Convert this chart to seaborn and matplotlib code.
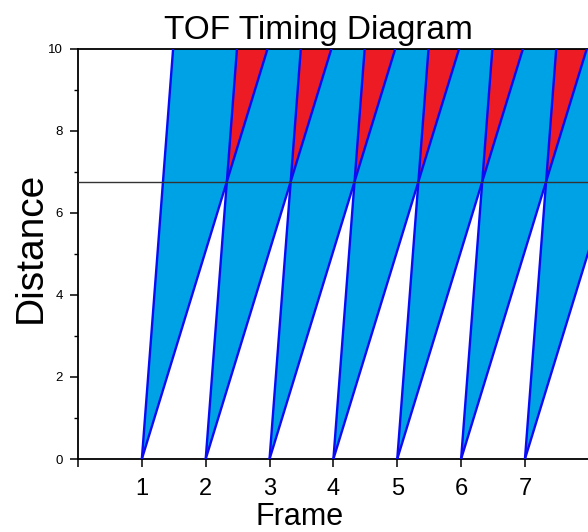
import numpy as np
import pandas as pd
import matplotlib
matplotlib.use("Agg")
import matplotlib.pyplot as plt
import seaborn as sns

# ---- data ----
frames = [1, 2, 3, 4, 5, 6, 7]          # frame start times (distance 0)
fast_offset = 0.49                       # arrival shift of fastest neutrons at top
slow_offset = 1.97                       # arrival shift of slowest neutrons at top
top_distance = 10.0
cut_distance = 6.75                      # horizontal reference line
x_ticks = [0, 1, 2, 3, 4, 5, 6, 7]
x_ticklabels = ["", "1", "2", "3", "4", "5", "6", "7"]
y_ticks = [0, 2, 4, 6, 8, 10]
y_minor = [1, 3, 5, 7, 9]

fill_blue = "#00A2E6"
fill_red = "#ED1C24"
edge_blue = "#0A0AF5"

sns.set_theme(style="ticks")
plt.rcParams["font.family"] = ["Liberation Sans", "DejaVu Sans"]

W, H = 588, 532
fig = plt.figure(figsize=(W / 100, H / 100), dpi=100)
x_units = 8.3
ax = fig.add_axes([78 / W, 73 / H, x_units * 63.85 / W, 410.5 / H])

# fans
rows = []
for f in frames:
    xs = [f, f + fast_offset, f + slow_offset]
    ys = [0, top_distance, top_distance]
    ax.fill(xs, ys, color=fill_blue, lw=0, zorder=1)
    rows.append(dict(seg=f"{f}f", x=f, d=0))
    rows.append(dict(seg=f"{f}f", x=f + fast_offset, d=top_distance))
    rows.append(dict(seg=f"{f}s", x=f, d=0))
    rows.append(dict(seg=f"{f}s", x=f + slow_offset, d=top_distance))

# overlaps of consecutive frames (red)
for a, b in zip(frames[:-1], frames[1:]):
    ks = slow_offset / top_distance
    kf = fast_offset / top_distance
    yc = (b - a) / (ks - kf)
    xc = a + ks * yc
    ax.fill([xc, b + fast_offset, a + slow_offset],
            [yc, top_distance, top_distance], color=fill_red, lw=0, zorder=2)

df = pd.DataFrame(rows)
sns.lineplot(data=df, x="x", y="d", units="seg", estimator=None, sort=False,
             color=edge_blue, lw=1.7, ax=ax, zorder=3)

ax.axhline(cut_distance, color="#333333", lw=1.0, zorder=4)

ax.set_xlim(0, x_units)
ax.set_ylim(0, top_distance)
ax.set_xticks(x_ticks)
ax.set_xticklabels(x_ticklabels)
ax.set_yticks(y_ticks)
ax.set_yticks(y_minor, minor=True)
ax.set_xlabel("")
ax.set_ylabel("")
ax.tick_params(axis="x", which="major", length=5.5, width=1.1, pad=8,
               labelsize=17, direction="out", colors="black")
ax.tick_params(axis="y", which="major", length=5.8, width=1.1, pad=5,
               labelsize=9.5, direction="out", colors="black")
ax.tick_params(axis="y", which="minor", length=3, width=1.0, direction="out",
               colors="black")
for s in ["left", "bottom", "top"]:
    ax.spines[s].set_visible(True)
    ax.spines[s].set_color("black")
    ax.spines[s].set_linewidth(1.3)
ax.spines["right"].set_visible(False)
ax.grid(False)

fig.text(318 / W, 1 - 39 / H, "TOF Timing Diagram", ha="center", va="baseline",
         fontsize=24, color="black")
fig.text(300 / W, 1 - 525 / H, "Frame", ha="center", va="baseline",
         fontsize=22, color="black")
fig.text(31 / W, 1 - 247 / H, "Distance", ha="center", va="center",
         rotation=90, fontsize=28, color="black")

fig.savefig("out.png", dpi=100)
